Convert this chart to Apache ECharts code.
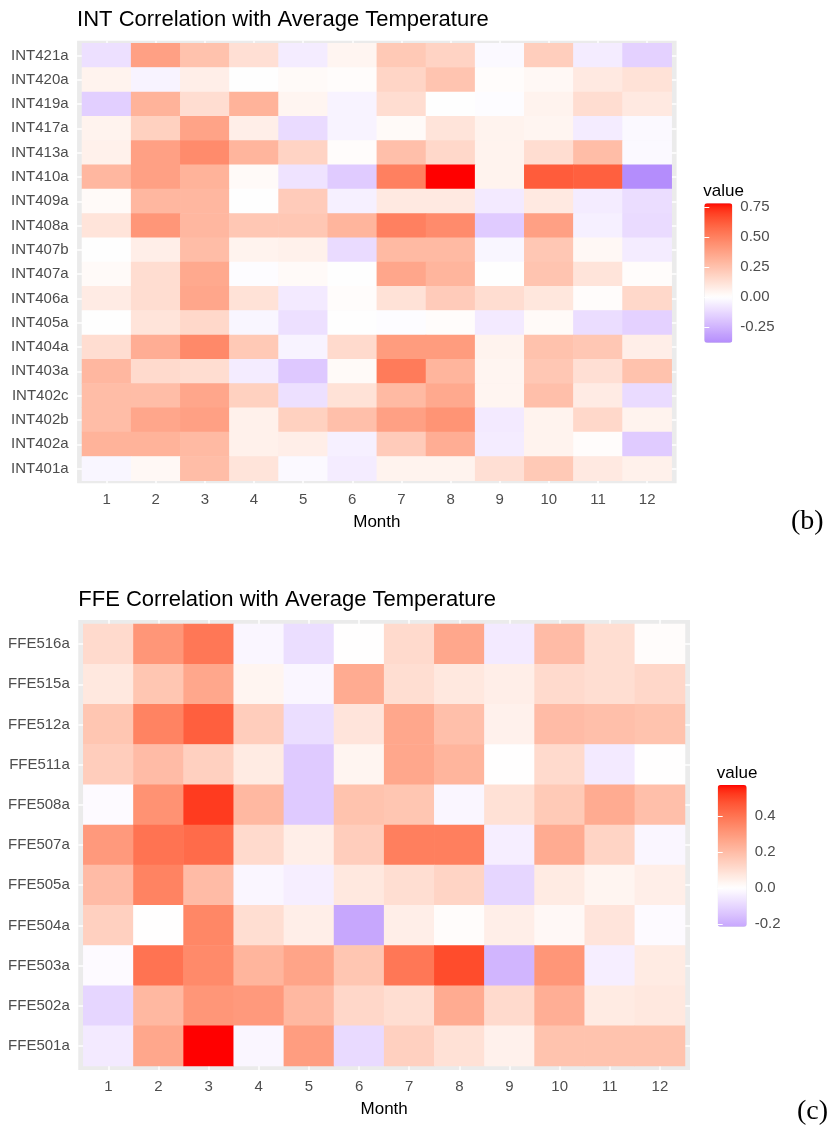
<!DOCTYPE html>
<html><head><meta charset="utf-8">
<script src="https://cdn.jsdelivr.net/npm/echarts@6/dist/echarts.min.js"></script>
<style>html,body{margin:0;padding:0;background:#fff}#c{width:831px;height:1130px}</style>
</head><body><div id="c"></div>
<script>
// ---------------- data ----------------
const months = ['1','2','3','4','5','6','7','8','9','10','11','12'];

// top-to-bottom as displayed
const intStations = ['INT421a','INT420a','INT419a','INT417a','INT413a','INT410a','INT409a','INT408a','INT407b',
  'INT407a','INT406a','INT405a','INT404a','INT403a','INT402c','INT402b','INT402a','INT401a'];
const intValues = [
  [-0.10,0.38,0.25,0.13,-0.06,0.04,0.22,0.18,-0.02,0.20,-0.06,-0.15],
  [0.05,-0.04,0.07,0.00,0.02,0.01,0.17,0.24,0.01,0.03,0.09,0.12],
  [-0.16,0.31,0.14,0.31,0.04,-0.04,0.14,0.00,-0.01,0.05,0.14,0.09],
  [0.05,0.19,0.37,0.07,-0.12,-0.04,0.02,0.11,0.05,0.04,-0.06,-0.02],
  [0.06,0.38,0.46,0.30,0.18,0.01,0.26,0.16,0.05,0.14,0.27,-0.02],
  [0.29,0.38,0.31,0.02,-0.09,-0.17,0.50,0.78,0.05,0.62,0.61,-0.38],
  [0.02,0.29,0.29,0.00,0.21,-0.05,0.09,0.09,-0.07,0.09,-0.06,-0.11],
  [0.11,0.42,0.29,0.23,0.23,0.30,0.50,0.46,-0.17,0.38,-0.05,-0.12],
  [0.00,0.07,0.27,0.05,0.06,-0.12,0.28,0.28,-0.03,0.23,0.03,-0.06],
  [0.02,0.14,0.35,-0.01,0.02,0.00,0.36,0.30,0.00,0.24,0.11,0.01],
  [0.08,0.14,0.36,0.12,-0.07,0.01,0.12,0.21,0.14,0.10,0.01,0.16],
  [0.00,0.11,0.16,-0.03,-0.10,0.00,-0.01,0.01,-0.07,0.02,-0.11,-0.15],
  [0.14,0.33,0.47,0.22,-0.04,0.15,0.40,0.40,0.05,0.25,0.23,0.07],
  [0.29,0.15,0.14,-0.06,-0.18,0.02,0.52,0.30,0.04,0.23,0.13,0.25],
  [0.27,0.27,0.36,0.19,-0.10,0.12,0.28,0.35,0.04,0.26,0.08,-0.12],
  [0.27,0.36,0.38,0.06,0.19,0.26,0.38,0.43,-0.07,0.05,0.16,0.05],
  [0.31,0.31,0.28,0.06,0.07,-0.05,0.21,0.33,-0.06,0.05,0.01,-0.17],
  [-0.03,0.03,0.27,0.11,-0.02,-0.06,0.05,0.05,0.13,0.22,0.09,0.06]
];

const ffeStations = ['FFE516a','FFE515a','FFE512a','FFE511a','FFE508a','FFE507a','FFE505a','FFE504a','FFE503a','FFE502a','FFE501a'];
const ffeValues = [
  [0.11,0.31,0.39,-0.02,-0.08,0.00,0.11,0.26,-0.05,0.20,0.10,0.01],
  [0.07,0.17,0.26,0.03,-0.02,0.25,0.10,0.07,0.05,0.11,0.10,0.12],
  [0.17,0.36,0.45,0.15,-0.08,0.08,0.26,0.19,0.04,0.20,0.19,0.18],
  [0.15,0.20,0.14,0.06,-0.13,0.03,0.26,0.22,0.00,0.11,-0.05,0.00],
  [-0.01,0.32,0.52,0.21,-0.13,0.18,0.17,-0.02,0.09,0.16,0.25,0.19],
  [0.30,0.40,0.42,0.11,0.05,0.15,0.37,0.37,-0.04,0.25,0.13,-0.02],
  [0.20,0.36,0.20,-0.02,-0.04,0.07,0.10,0.13,-0.10,0.06,0.03,0.05],
  [0.14,0.00,0.35,0.10,0.05,-0.215,0.05,0.01,0.05,0.02,0.08,-0.01],
  [-0.01,0.40,0.34,0.22,0.27,0.17,0.39,0.49,-0.18,0.31,-0.04,0.06],
  [-0.10,0.21,0.31,0.30,0.21,0.12,0.10,0.25,0.11,0.24,0.06,0.07],
  [-0.05,0.26,0.572,-0.02,0.29,-0.09,0.14,0.09,0.04,0.18,0.18,0.18]
];

const intLegendTicks = [-0.25, 0, 0.25, 0.5, 0.75];
const ffeLegendTicks = [-0.2, 0, 0.2, 0.4];

// ---------------- colour scale (gradient2 in CIELAB) ----------------
const LAB_LOW = [31, 77, -103], LAB_MID = [100, 0, 0], LAB_HIGH = [53.24, 80.09, 67.20];
function labToRgb(L, a, b) {
  const fy = (L + 16) / 116, fx = fy + a / 500, fz = fy - b / 200;
  const finv = t => { const t3 = t * t * t; return t3 > 0.008856 ? t3 : (t - 16 / 116) / 7.787; };
  const X = 0.95047 * finv(fx), Y = finv(fy), Z = 1.08883 * finv(fz);
  const r = 3.2404542 * X - 1.5371385 * Y - 0.4985314 * Z;
  const g = -0.9692660 * X + 1.8760108 * Y + 0.0415560 * Z;
  const bl = 0.0556434 * X - 0.2040259 * Y + 1.0572252 * Z;
  const gam = c => { c = c <= 0.0031308 ? 12.92 * c : 1.055 * Math.pow(c, 1 / 2.4) - 0.055; return Math.round(Math.max(0, Math.min(1, c)) * 255); };
  return 'rgb(' + gam(r) + ',' + gam(g) + ',' + gam(bl) + ')';
}
function gradient2(v, maxAbs) {
  const t = Math.min(1, Math.abs(v) / maxAbs);
  const end = v < 0 ? LAB_LOW : LAB_HIGH;
  return labToRgb(LAB_MID[0] + (end[0] - LAB_MID[0]) * t, LAB_MID[1] + (end[1] - LAB_MID[1]) * t, LAB_MID[2] + (end[2] - LAB_MID[2]) * t);
}
function colorStops(min, max) {
  const n = 80, m = Math.max(Math.abs(min), Math.abs(max)), out = [];
  for (let i = 0; i <= n; i++) out.push(gradient2(min + (max - min) * i / n, m));
  return out;
}

// ---------------- layout ----------------
const FONT = '"Liberation Sans", Arial, Helvetica, sans-serif';
const SERIF = '"Liberation Serif", "Times New Roman", serif';
const LABEL_COLOR = '#4D4D4D';

const panels = [
  { title: 'INT Correlation with Average Temperature', titleTop: 9, stations: intStations, values: intValues,
    grid: { left: 82, top: 43.3, width: 589.7, height: 437.4 },
    legend: { left: 704.3, top: 203.3, width: 28, height: 139.4, titleTop: 182.5, ticks: intLegendTicks, digits: 2 },
    tag: '(b)', tagLeft: 791, tagTop: 508 },
  { title: 'FFE Correlation with Average Temperature', titleTop: 589, stations: ffeStations, values: ffeValues,
    grid: { left: 83.3, top: 624, width: 601.7, height: 442 },
    legend: { left: 717.7, top: 785, width: 29, height: 141.7, titleTop: 765, ticks: ffeLegendTicks, digits: 1 },
    tag: '(c)', tagLeft: 797, tagTop: 1098 }
];

const option = { animation: false, backgroundColor: '#fff', title: [], grid: [], xAxis: [], yAxis: [], series: [], visualMap: [] };

panels.forEach((p, i) => {
  const g = p.grid;
  const mx = 0.1 * g.width / months.length;       // ggplot discrete expansion (0.6 - 0.5 band)
  const my = 0.1 * g.height / p.stations.length;
  const flat = p.values.flat();
  const vmin = Math.min(...flat), vmax = Math.max(...flat);

  // heatmap grid
  const hg = option.grid.length;
  option.grid.push({ left: g.left, top: g.top, width: g.width, height: g.height, containLabel: false, outerBoundsMode: 'none' });
  const hx = option.xAxis.length, hy = option.yAxis.length;
  option.xAxis.push({
    type: 'category', gridIndex: hg, data: months, position: 'bottom', offset: my,
    axisLine: { show: false }, splitLine: { show: false },
    axisTick: { alignWithLabel: true, length: 4, lineStyle: { color: '#333333', width: 1 } },
    axisLabel: { interval: 0, margin: 9.5, color: LABEL_COLOR, fontSize: 15, fontFamily: FONT },
    name: 'Month', nameLocation: 'middle', nameGap: 30.5,
    nameTextStyle: { color: '#000', fontSize: 17, fontFamily: FONT }
  });
  option.yAxis.push({
    type: 'category', gridIndex: hg, data: p.stations, inverse: true, offset: mx,
    axisLine: { show: false }, splitLine: { show: false },
    axisTick: { alignWithLabel: true, length: 4, lineStyle: { color: '#333333', width: 1 } },
    axisLabel: { interval: 0, margin: 8.5, color: LABEL_COLOR, fontSize: 15, fontFamily: FONT }
  });
  const data = [];
  p.values.forEach((row, si) => row.forEach((v, mi) => data.push([mi, si, v])));
  const si = option.series.length;
  option.series.push({
    type: 'heatmap', xAxisIndex: hx, yAxisIndex: hy, data: data, z: 2,
    itemStyle: { borderWidth: 0 }, emphasis: { disabled: true }, progressive: 0
  });
  option.visualMap.push({
    type: 'continuous', seriesIndex: si, dimension: 2, min: vmin, max: vmax,
    inRange: { color: colorStops(vmin, vmax) },
    orient: 'vertical', left: p.legend.left, top: p.legend.top, itemWidth: p.legend.width, itemHeight: p.legend.height,
    calculable: false, hoverLink: false, padding: 0, text: null, z: 4
  });

  // panel background grid with white major-gridline stubs in the expansion margin
  const pg = option.grid.length;
  option.grid.push({ left: g.left - mx, top: g.top - my, width: g.width + 2 * mx, height: g.height + 2 * my,
    show: true, backgroundColor: '#EBEBEB', borderWidth: 0, containLabel: false, outerBoundsMode: 'none' });
  const colCenters = months.map((m, k) => k + 1);
  const rowCenters = p.stations.map((s, k) => k + 1);
  ['top', 'bottom'].forEach(pos => option.xAxis.push({
    type: 'value', gridIndex: pg, position: pos, min: 0.4, max: months.length + 0.6,
    axisLine: { show: false }, splitLine: { show: false }, axisLabel: { show: false },
    axisTick: { show: true, inside: true, customValues: colCenters, length: my, lineStyle: { color: '#FFFFFF', width: 1.5 } }
  }));
  ['left', 'right'].forEach(pos => option.yAxis.push({
    type: 'value', gridIndex: pg, position: pos, min: 0.4, max: p.stations.length + 0.6,
    axisLine: { show: false }, splitLine: { show: false }, axisLabel: { show: false },
    axisTick: { show: true, inside: true, customValues: rowCenters, length: mx, lineStyle: { color: '#FFFFFF', width: 1.5 } }
  }));

  // legend tick labels (colour bar itself is the visualMap)
  const L = p.legend;
  const lg = option.grid.length;
  option.grid.push({ left: L.left, top: L.top, width: L.width, height: L.height, containLabel: false, outerBoundsMode: 'none' });
  option.xAxis.push({ type: 'value', gridIndex: lg, show: false, min: 0, max: 1 });
  option.yAxis.push({
    type: 'value', gridIndex: lg, position: 'right', min: vmin, max: vmax, z: 10,
    axisLine: { show: false }, splitLine: { show: false },
    axisTick: { show: true, inside: true, customValues: L.ticks, length: 5, lineStyle: { color: '#FFFFFF', width: 1 } },
    axisLabel: { show: true, customValues: L.ticks, margin: 8, color: LABEL_COLOR, fontSize: 15, fontFamily: FONT,
      formatter: v => Number(v).toFixed(L.digits) }
  });
  option.yAxis.push({
    type: 'value', gridIndex: lg, position: 'left', min: vmin, max: vmax, z: 10,
    axisLine: { show: false }, splitLine: { show: false }, axisLabel: { show: false },
    axisTick: { show: true, inside: true, customValues: L.ticks, length: 5, lineStyle: { color: '#FFFFFF', width: 1 } }
  });

  option.title.push({ text: p.title, left: g.left - mx, top: p.titleTop, padding: 0,
    textStyle: { fontSize: 22, fontWeight: 'normal', color: '#000', fontFamily: FONT } });
  option.title.push({ text: 'value', left: L.left - 1, top: L.titleTop, padding: 0,
    textStyle: { fontSize: 17, fontWeight: 'normal', color: '#000', fontFamily: FONT } });
  option.title.push({ text: p.tag, left: p.tagLeft, top: p.tagTop, padding: 0,
    textStyle: { fontSize: 28, fontWeight: 'normal', color: '#000', fontFamily: SERIF } });
});

const chart = echarts.init(document.getElementById('c'), null, { renderer: 'canvas' });
chart.setOption(option);
</script>
</body></html>
